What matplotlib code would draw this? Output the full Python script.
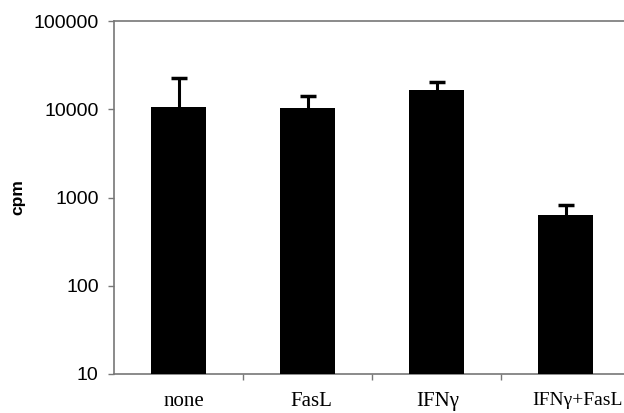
import matplotlib
matplotlib.use("Agg")
import matplotlib.pyplot as plt
from matplotlib.ticker import FixedLocator, FixedFormatter, NullLocator
from matplotlib.transforms import blended_transform_factory, offset_copy

categories = ["none", "FasL", "IFNγ", "IFNγ+FasL"]
values = [10500, 10300, 16600, 626]
errors_upper = [12200, 3900, 3500, 186]
ytick_values = [10, 100, 1000, 10000, 100000]
ytick_labels = ["10", "100", "1000", "10000", "100000"]

fig = plt.figure(figsize=(6.24, 4.13), dpi=100)
ax = fig.add_axes([114/624, 1-374/413, 516/624, (374-21)/413])

x = list(range(len(categories)))
ax.bar(x, values, width=0.43, color="black", bottom=0.0001, zorder=3)
eb = ax.errorbar(x, values, yerr=[[0]*len(values), errors_upper], fmt="none",
                 ecolor="black", elinewidth=2.2, capsize=5.5, capthick=2.5, zorder=2)
caplines = eb[1]
if len(caplines) >= 2:
    caplines[0].set_visible(False)

ax.set_yscale("log")
ax.set_ylim(10, 100000)
ax.set_xlim(-0.5, 3.5)
ax.yaxis.set_major_locator(FixedLocator(ytick_values))
ax.yaxis.set_major_formatter(FixedFormatter(ytick_labels))
ax.yaxis.set_minor_locator(NullLocator())
ax.tick_params(axis="y", which="major", length=4, width=1, color="#777777",
               pad=7, labelsize=14)
for lbl in ax.get_yticklabels():
    lbl.set_family("Liberation Sans")

ax.set_xticks([0.5, 1.5, 2.5])
ax.set_xticklabels([])
ax.tick_params(axis="x", which="major", length=4, width=1, color="#777777")

trans = blended_transform_factory(ax.transData, ax.transAxes)
shifts = [0.04, 0.03, 0.01, 0.09]
sizes = [15, 15, 15, 14]
for i, (c, s, fs) in enumerate(zip(categories, shifts, sizes)):
    ax.text(i + s, 0, c, transform=offset_copy(trans, fig=fig, y=-13, units="points"),
            ha="center", va="top", fontsize=fs, family="Liberation Serif")

for side in ["left", "top", "bottom"]:
    ax.spines[side].set_color("#777777")
    ax.spines[side].set_linewidth(1.2)
ax.spines["right"].set_visible(False)

fig.text(18/624, 1-197/413, "cpm", rotation=90, ha="center", va="center",
         fontsize=12.5, fontweight="bold", family="Liberation Sans")

fig.savefig("out.png", dpi=100, facecolor="white")
